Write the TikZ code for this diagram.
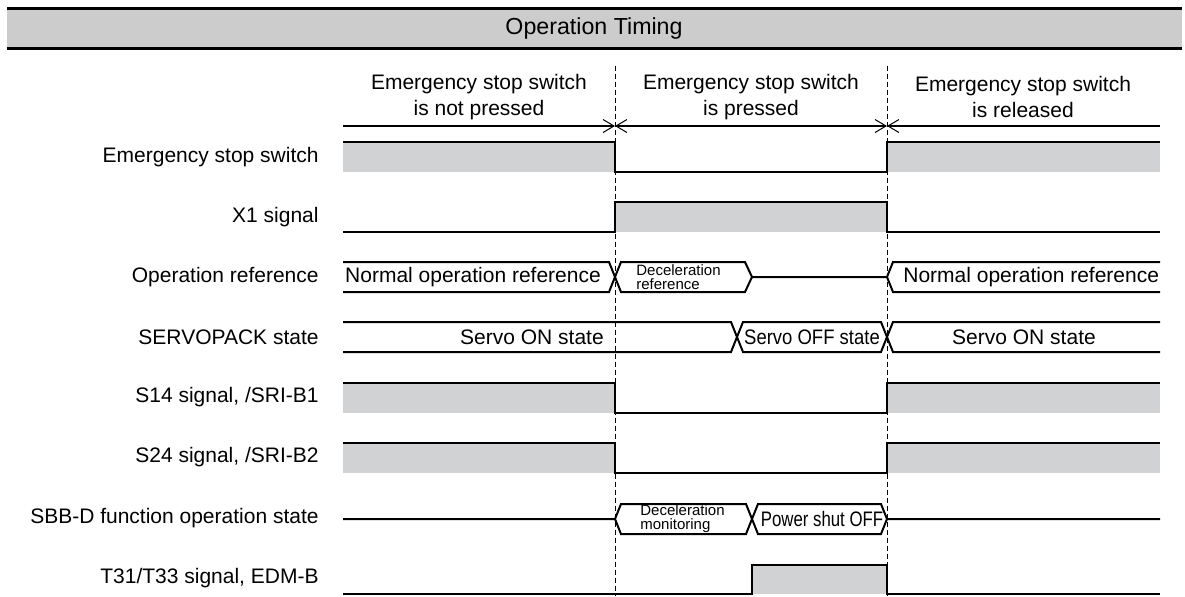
\documentclass[tikz,border=0pt]{standalone}
\usepackage{fontspec}
\setmainfont{Liberation Sans}
\usepackage{tikz}
\usetikzlibrary{arrows.meta, positioning}
\definecolor{headgray}{RGB}{204,204,204}
\definecolor{siggray}{RGB}{209,210,212}
\tikzstyle{wave} = [line width=1pt, line join=miter]
\tikzstyle{high} = [fill=siggray]
\tikzstyle{rowname} = [anchor=east, inner sep=0pt]
\tikzstyle{busval} = [inner sep=0pt]
\tikzstyle{tiny} = [inner sep=0pt, anchor=west, align=left, font=\fontsize{7.5}{6.9}\selectfont]
\tikzstyle{guide} = [line width=0.5pt, dash pattern=on 2.4pt off 1.6pt]
\tikzstyle{span} = [line width=1pt, >={Straight Barb[length=5.5pt,width=6.5pt,line width=0.5pt]}]

\begin{document}
\begin{tikzpicture}[x=0.5pt, y=-0.5pt, font=\fontsize{10.5}{13}\selectfont]
        \useasboundingbox (0,0) rectangle (1185,596);

        % header
        \fill[headgray] (7,8) rectangle (1182,48);
        \draw[line width=1.5pt] (7,8) -- (1182,8);
        \draw[line width=1.5pt] (7,48) -- (1182,48);
        \node (title) [busval, font=\fontsize{11.6}{14}\selectfont] at (594,28) {Operation Timing};

        % phases
        \node (colA) [busval, align=center] at (479,97) {Emergency stop switch\\is not pressed};
        \node (colB) [busval, align=center] at (751,97) {Emergency stop switch\\is pressed};
        \node (colC) [busval, align=center] at (1023,97) {Emergency stop switch\\is released};
        \draw[span, ->] (343,126) -- (615,126);
        \draw[span, <->] (615,126) -- (887,126);
        \draw[span, <-] (887,126) -- (1160,126);

        % row names
        \node (lEss) [rowname] at (319,157) {Emergency stop switch};
        \node (lX) [rowname] at (319,217) {X1 signal};
        \node (lRef) [rowname] at (319,277) {Operation reference};
        \node (lSp) [rowname] at (319,337) {SERVOPACK state};
        \node (lS14) [rowname] at (319,397) {S14 signal, /SRI-B1};
        \node (lS24) [rowname] at (319,457) {S24 signal, /SRI-B2};
        \node (lSbb) [rowname] at (319,518) {SBB-D function operation state};
        \node (lEdm) [rowname] at (319,578) {T31/T33 signal, EDM-B};

        % high levels
        \fill[high] (343,142) rectangle (615,172);
        \fill[high] (887,142) rectangle (1160,172);
        \fill[high] (615,202) rectangle (887,232);
        \fill[high] (343,383) rectangle (615,413);
        \fill[high] (887,383) rectangle (1160,413);
        \fill[high] (343,443) rectangle (615,473);
        \fill[high] (887,443) rectangle (1160,473);
        \fill[high] (752,565) rectangle (887,594);

        \draw[guide] (615,66) -- (615,596);
        \draw[guide] (887,66) -- (887,596);

        % signals
        \draw[wave] (343,142) -- (615,142) -- (615,172) -- (887,172) -- (887,142) -- (1160,142);
        \draw[wave] (343,232) -- (615,232) -- (615,202) -- (887,202) -- (887,232) -- (1160,232);
        \draw[wave] (343,383) -- (615,383) -- (615,413) -- (887,413) -- (887,383) -- (1160,383);
        \draw[wave] (343,443) -- (615,443) -- (615,473) -- (887,473) -- (887,443) -- (1160,443);
        \draw[wave] (343,594) -- (752,594) -- (752,565) -- (887,565) -- (887,594) -- (1160,594);

        % operation reference
        \draw[wave] (343,262) -- (609,262) -- (621,292) -- (745,292) -- (752,277) -- (887,277) -- (893,262) -- (1160,262);
        \draw[wave] (343,292) -- (609,292) -- (621,262) -- (745,262) -- (752,277);
        \draw[wave] (887,277) -- (893,292) -- (1160,292);
        \node (vRefA) [busval] at (473,277) {Normal operation reference};
        \node (vRefB) [tiny] at (636,277) {Deceleration\\reference};
        \node (vRefC) [busval, anchor=west] at (903,277) {Normal operation reference};

        % servopack state
        \draw[wave] (343,322) -- (731,322) -- (743,352) -- (881,352) -- (893,322) -- (1160,322);
        \draw[wave] (343,352) -- (731,352) -- (743,322) -- (881,322) -- (893,352) -- (1160,352);
        \node (vSpA) [busval] at (532,337) {Servo ON state};
        \node (vSpB) [busval] at (812,337) {\scalebox{0.88}[1]{Servo OFF state}};
        \node (vSpC) [busval] at (1024,337) {Servo ON state};

        % SBB-D state
        \draw[wave] (343,519) -- (615,519) -- (621,504) -- (746,504) -- (758,534) -- (881,534) -- (887,519) -- (1160,519);
        \draw[wave] (615,519) -- (621,534) -- (746,534) -- (758,504) -- (881,504) -- (887,519);
        \node (vSbbA) [tiny] at (640,519) {Deceleration\\monitoring};
        \node (vSbbB) [busval] at (822,519) {\scalebox{0.8}[1]{Power shut OFF}};
\end{tikzpicture}
\end{document}
